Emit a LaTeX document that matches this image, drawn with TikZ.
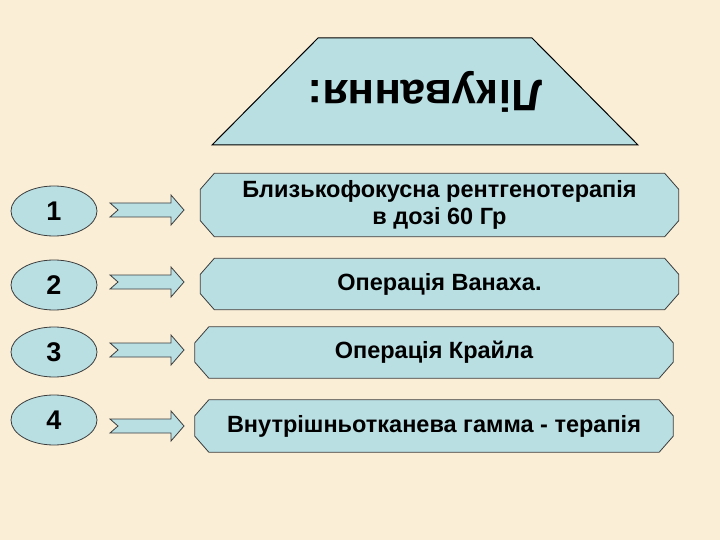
\documentclass[tikz,border=0pt]{standalone}
\usepackage{fontspec}
\setmainfont{Liberation Sans}
\usetikzlibrary{shapes.geometric,backgrounds}

\definecolor{bgbeige}{RGB}{250,238,214}
\definecolor{paleblue}{RGB}{185,223,227}
\definecolor{edgegray}{RGB}{60,60,60}

\tikzstyle{numblock} = [ellipse, draw=edgegray, fill=paleblue, line width=0.8pt, minimum width=86pt, minimum height=50pt, inner sep=0pt, font=\fontsize{27}{27}\selectfont\bfseries]
\tikzstyle{stepbox} = [rectangle, minimum width=478pt, inner sep=0pt, align=center, font=\fontsize{23.5}{27}\selectfont\bfseries]
\tikzstyle{boxedge} = [draw=edgegray, fill=paleblue, line width=0.8pt]
\tikzstyle{blockarrow} = [draw=edgegray, fill=paleblue, line width=0.8pt, line join=miter]

\begin{document}
\begin{tikzpicture}[x=1pt, y=-1pt]
        \useasboundingbox (0,0) rectangle (720,540);

        % Title trapezium with upside-down heading
        \coordinate (tl) at (318,38);
        \coordinate (tr) at (532,38);
        \coordinate (br) at (638,145);
        \coordinate (bl) at (212,145);
        \draw[fill=paleblue, line width=1pt] (tl) -- (tr) -- (br) -- (bl) -- cycle;
        \node (title) at (425,92) [rotate=180, font=\fontsize{44}{44}\selectfont\bfseries] {Лікування:};

        % Numbers
        \node (num1) at (54,211) [numblock] {1};
        \node (num2) at (54,285) [numblock] {2};
        \node (num3) at (54,352) [numblock] {3};
        \node (num4) at (54,420) [numblock] {4};

        % Treatment boxes
        \node (box1) at (439.5,205) [stepbox, minimum height=63pt] {Близькофокусна рентгенотерапія\\в дозі 60 Гр};
        \node (box2) at (439.5,284) [stepbox, minimum height=51pt] {Операція Ванаха.};
        \node (box3) at (434,352.5) [stepbox, minimum height=51pt] {Операція Крайла};
        \node (box4) at (434,426) [stepbox, minimum height=52pt] {Внутрішньотканева гамма - терапія};

        % Snipped outlines behind the box texts
        \begin{scope}[on background layer]
            \fill[bgbeige] (0,0) rectangle (720,540);
            \foreach \b in {box1,box2,box3,box4}
                \draw[boxedge] ([xshift=14pt]\b.north west) -- ([xshift=-14pt]\b.north east)
                    -- ([yshift=-16pt]\b.north east) -- ([yshift=16pt]\b.south east)
                    -- ([xshift=-14pt]\b.south east) -- ([xshift=14pt]\b.south west)
                    -- ([yshift=16pt]\b.south west) -- ([yshift=-16pt]\b.north west) -- cycle;
        \end{scope}

        % Notched arrows
        \coordinate (arr1) at (110,210);
        \coordinate (arr2) at (110,282);
        \coordinate (arr3) at (110,350);
        \coordinate (arr4) at (110,426);
        \foreach \a in {arr1,arr2,arr3,arr4}
            \draw[blockarrow] (\a) ++(0,-7) -- ++(61,0) -- ++(0,-8) -- ++(13,15) -- ++(-13,15) -- ++(0,-8) -- ++(-61,0) -- ++(8,-7) -- cycle;
    \end{tikzpicture}
\end{document}
